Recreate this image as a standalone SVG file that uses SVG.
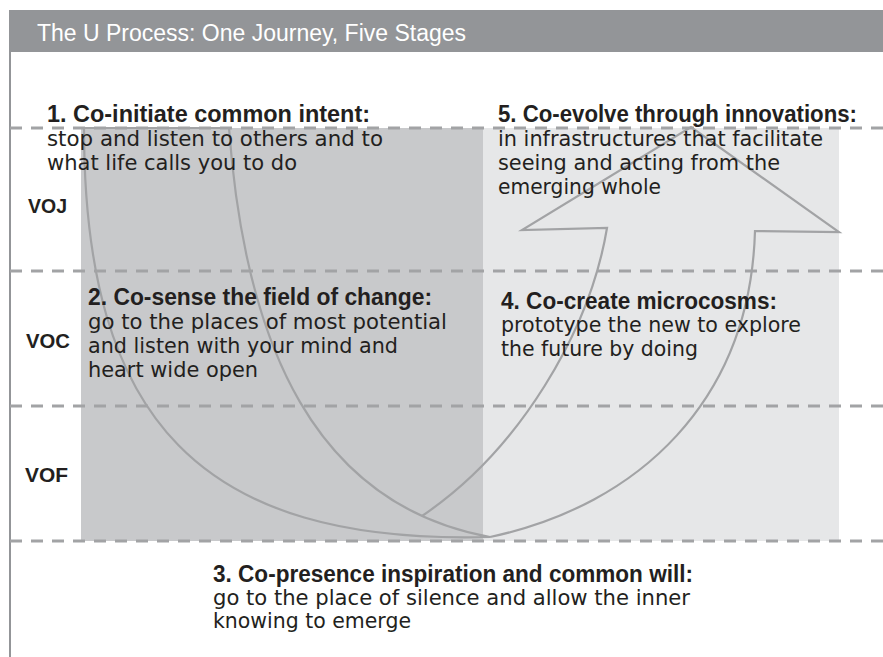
<svg xmlns="http://www.w3.org/2000/svg" width="883" height="657" viewBox="0 0 883 657">
  <style>
    .title { font-family: 'Liberation Sans', Arial, sans-serif; font-size: 23px; fill: #ffffff; }
    .head { font-family: 'Liberation Sans', Arial, sans-serif; font-weight: bold; font-size: 23px; fill: #231f20; }
    .body { font-family: 'DejaVu Sans', 'Liberation Sans', sans-serif; font-size: 21px; fill: #231f20; }
    .lvl { font-family: 'Liberation Sans', Arial, sans-serif; font-weight: bold; font-size: 21px; fill: #231f20; }
    .band { stroke: #a2a3a5; stroke-width: 3; stroke-dasharray: 12 9; fill: none; }
    .u { stroke: #a2a3a5; stroke-width: 2.2; fill: none; stroke-linejoin: miter; }
  </style>

  <!-- header bar and left frame -->
  <g id="header">
    <rect x="9" y="10" width="874" height="42" fill="#939598"/>
    <line x1="10" y1="52" x2="10" y2="657" stroke="#939598" stroke-width="2"/>
    <text class="title" x="37" y="41" textLength="429" lengthAdjust="spacingAndGlyphs">The U Process: One Journey, Five Stages</text>
  </g>

  <!-- shaded halves of the U -->
  <g id="shading">
    <rect x="81" y="128" width="402" height="413" fill="#c8c9cb"/>
    <rect x="483" y="128" width="356" height="413" fill="#e6e7e8"/>
  </g>

  <!-- level separators -->
  <g id="levels">
    <line class="band" x1="10" y1="128" x2="883" y2="128"/>
    <line class="band" x1="10" y1="271" x2="883" y2="271"/>
    <line class="band" x1="10" y1="406" x2="883" y2="406"/>
    <line class="band" x1="10" y1="541" x2="883" y2="541"/>
  </g>

  <!-- the U-shaped arrow -->
  <g id="connectors">
    <path class="u" d="M84,128 L229,128 C245,345 315,505 490,537 C200,545 84,420 84,128 Z"/>
    <path class="u" d="M490,537 C640,505 750,400 755,231 L839,232 L691,127 L522,230 L607,228 C590,330 520,450 422,516"/>
  </g>

  <!-- level labels -->
  <g id="level-voj"><text class="lvl" x="28" y="213" textLength="39" lengthAdjust="spacingAndGlyphs">VOJ</text></g>
  <g id="level-voc"><text class="lvl" x="26" y="348" textLength="44" lengthAdjust="spacingAndGlyphs">VOC</text></g>
  <g id="level-vof"><text class="lvl" x="25" y="482" textLength="43" lengthAdjust="spacingAndGlyphs">VOF</text></g>

  <!-- stages -->
  <g id="stage-1">
    <text class="head" x="47" y="122" textLength="323" lengthAdjust="spacingAndGlyphs">1. Co-initiate common intent:</text>
    <text class="body" x="47" y="146" textLength="336" lengthAdjust="spacingAndGlyphs">stop and listen to others and to</text>
    <text class="body" x="47" y="170" textLength="250" lengthAdjust="spacingAndGlyphs">what life calls you to do</text>
  </g>

  <g id="stage-2">
    <text class="head" x="88" y="305" textLength="344" lengthAdjust="spacingAndGlyphs">2. Co-sense the field of change:</text>
    <text class="body" x="88" y="329" textLength="359" lengthAdjust="spacingAndGlyphs">go to the places of most potential</text>
    <text class="body" x="88" y="353" textLength="310" lengthAdjust="spacingAndGlyphs">and listen with your mind and</text>
    <text class="body" x="88" y="377" textLength="170" lengthAdjust="spacingAndGlyphs">heart wide open</text>
  </g>

  <g id="stage-3">
    <text class="head" x="213" y="582" textLength="480" lengthAdjust="spacingAndGlyphs">3. Co-presence inspiration and common will:</text>
    <text class="body" x="213" y="605" textLength="477" lengthAdjust="spacingAndGlyphs">go to the place of silence and allow the inner</text>
    <text class="body" x="213" y="628" textLength="198" lengthAdjust="spacingAndGlyphs">knowing to emerge</text>
  </g>

  <g id="stage-4">
    <text class="head" x="501" y="309" textLength="276" lengthAdjust="spacingAndGlyphs">4. Co-create microcosms:</text>
    <text class="body" x="501" y="332" textLength="300" lengthAdjust="spacingAndGlyphs">prototype the new to explore</text>
    <text class="body" x="501" y="356" textLength="197" lengthAdjust="spacingAndGlyphs">the future by doing</text>
  </g>

  <g id="stage-5">
    <text class="head" x="498" y="122" textLength="359" lengthAdjust="spacingAndGlyphs">5. Co-evolve through innovations:</text>
    <text class="body" x="498" y="146" textLength="325" lengthAdjust="spacingAndGlyphs">in infrastructures that facilitate</text>
    <text class="body" x="498" y="170" textLength="282" lengthAdjust="spacingAndGlyphs">seeing and acting from the</text>
    <text class="body" x="498" y="194" textLength="163" lengthAdjust="spacingAndGlyphs">emerging whole</text>
  </g>
</svg>
